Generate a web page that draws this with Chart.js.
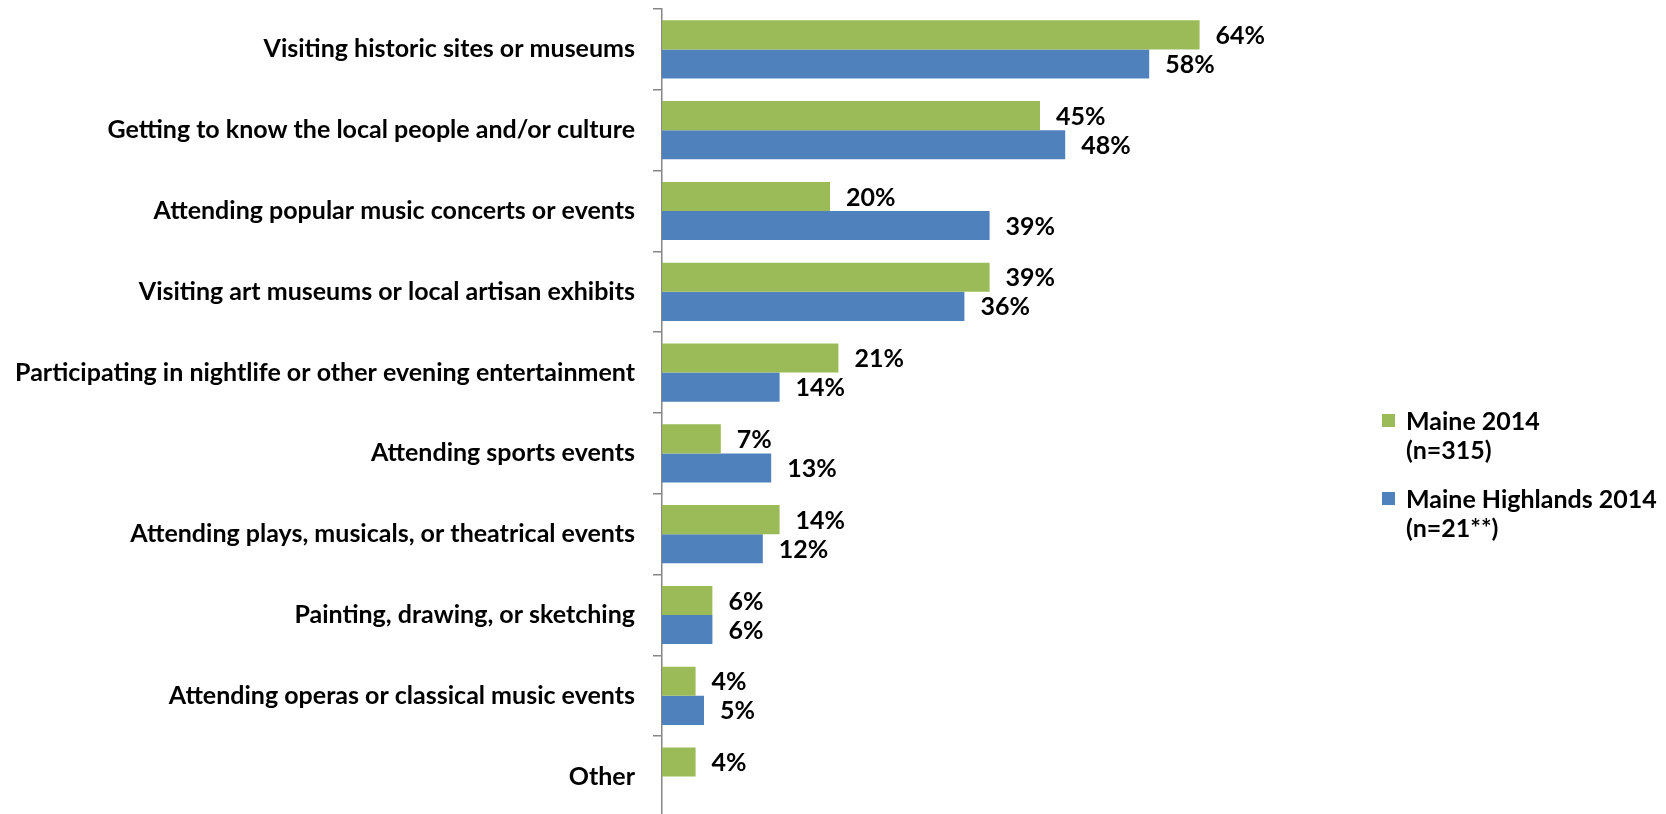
<!DOCTYPE html>
<html>
<head>
<meta charset="utf-8">
<title>Cultural activities</title>
<script src="https://cdn.jsdelivr.net/npm/chart.js@4/dist/chart.umd.min.js"></script>
<style>
  html, body { margin: 0; padding: 0; background: #fff; overflow: hidden; }
  #wrap { position: relative; width: 1666px; height: 814px; overflow: hidden; }
  #chart { position: absolute; left: 0; top: 0; }
  #legend {
    position: absolute; left: 1382px; top: 406px;
    font: bold 25px Lato, "Open Sans", sans-serif; color: #000; line-height: 29px;
  }
  .legend-item { position: relative; padding-left: 24px; margin-bottom: 20px; }
  .legend-swatch { position: absolute; left: 0; top: 8px; width: 13px; height: 13px; }
</style>
</head>
<body>
<div id="wrap">
  <canvas id="chart" width="1666" height="820"></canvas>
  <div id="legend"></div>
</div>
<script>
const categories = [
  'Visiting historic sites or museums',
  'Getting to know the local people and/or culture',
  'Attending popular music concerts or events',
  'Visiting art museums or local artisan exhibits',
  'Participating in nightlife or other evening entertainment',
  'Attending sports events',
  'Attending plays, musicals, or theatrical events',
  'Painting, drawing, or sketching',
  'Attending operas or classical music events',
  'Other',
];

const maine2014 = [64, 45, 20, 39, 21, 7, 14, 6, 4, 4];
const highlands2014 = [58, 48, 39, 36, 14, 13, 12, 6, 5, null];

const seriesNames = [
  ['Maine 2014', '(n=315)'],
  ['Maine Highlands 2014', '(n=21**)'],
];
const seriesColors = ['#9BBB59', '#4F81BD'];

const FONT_FAMILY = 'Lato, "Open Sans", sans-serif';
const AXIS_GREY = '#868686';

// value labels to the right of each bar
const barValueLabels = {
  id: 'barValueLabels',
  afterDatasetsDraw(chart) {
    const ctx = chart.ctx;
    ctx.save();
    ctx.font = 'bold 25px ' + FONT_FAMILY;
    ctx.fillStyle = '#000';
    ctx.textAlign = 'left';
    ctx.textBaseline = 'middle';
    chart.data.datasets.forEach((ds, i) => {
      const meta = chart.getDatasetMeta(i);
      meta.data.forEach((bar, j) => {
        const v = ds.data[j];
        if (v === null || v === undefined) return;
        ctx.fillText(v + '%', bar.x + 16, bar.y + 1);
      });
    });
    ctx.restore();
  },
};

function buildLegend() {
  const el = document.getElementById('legend');
  el.innerHTML = seriesNames
    .map((lines, i) => `<div class="legend-item">
        <span class="legend-swatch" style="background:${seriesColors[i]}"></span>
        ${lines.map((l) => `<div>${l}</div>`).join('')}
      </div>`)
    .join('');
}

const ctx = document.getElementById('chart').getContext('2d');
new Chart(ctx, {
  type: 'bar',
  data: {
    labels: categories,
    datasets: [
      {
        label: seriesNames[0].join(' '),
        data: maine2014,
        backgroundColor: seriesColors[0],
        borderWidth: 0,
      },
      {
        label: seriesNames[1].join(' '),
        data: highlands2014,
        backgroundColor: seriesColors[1],
        borderWidth: 0,
      },
    ],
  },
  options: {
    indexAxis: 'y',
    responsive: false,
    animation: false,
    categoryPercentage: 0.72,
    barPercentage: 1.0,
    layout: { padding: { top: 9, right: 416, bottom: 3, left: 0 } },
    scales: {
      x: {
        display: false,
        min: 0,
        max: 70,
      },
      y: {
        // fixed axis position; labels never spill past the plot's ends
        afterFit: (scale) => {
          scale.width = 662;
          scale.paddingTop = 0;
          scale.paddingBottom = 0;
        },
        grid: {
          offset: true,
          drawOnChartArea: false,
          tickLength: 9,
          color: AXIS_GREY,
          lineWidth: 1.5,
        },
        border: { color: AXIS_GREY, width: 1.5 },
        ticks: {
          padding: 18,
          color: '#000',
          font: { family: FONT_FAMILY, size: 25, weight: 'bold' },
        },
      },
    },
    plugins: {
      legend: { display: false },
      tooltip: { enabled: false },
    },
  },
  plugins: [barValueLabels],
});

buildLegend();
</script>
</body>
</html>
